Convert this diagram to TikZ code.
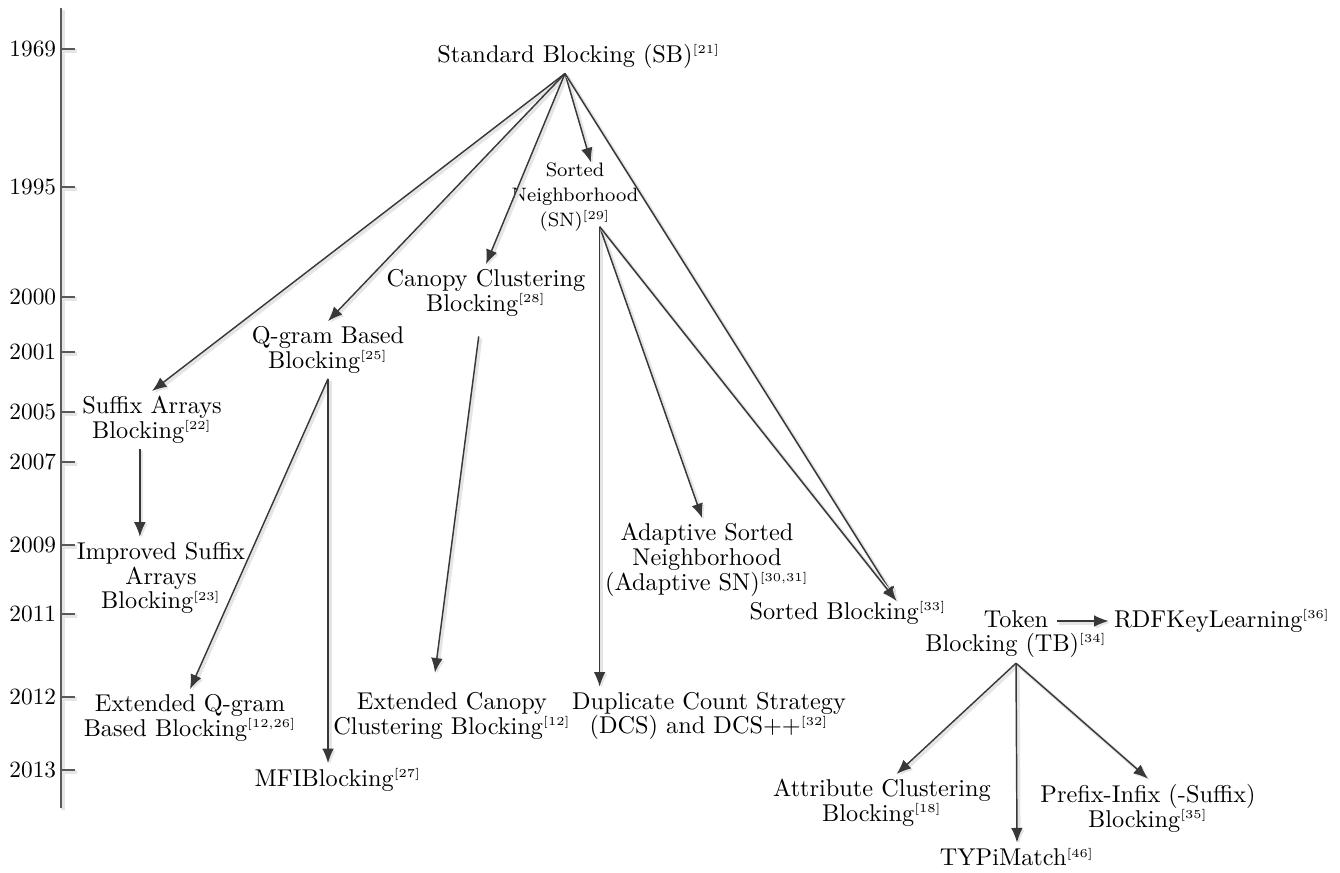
\documentclass[tikz,border=0pt]{standalone}
\usepackage{tikz}
\usetikzlibrary{arrows.meta}
\newcommand{\rf}[1]{\textsuperscript{\tiny[#1]}}
\tikzstyle{item} = [align=center, inner sep=2pt, font=\fontsize{10}{10.2}\selectfont]
\tikzstyle{smallitem} = [item, font=\fontsize{8}{10.2}\selectfont]
\tikzstyle{year} = [anchor=east, inner sep=1pt, font=\fontsize{9.6}{10}\selectfont]
\tikzstyle{link} = [->, draw=black!78, line width=0.6pt, preaction={draw=black!10, line width=1.4pt, transform canvas={shift={(0.8pt,-0.8pt)}}}]
\tikzstyle{axis} = [draw=black!65, line width=0.8pt, preaction={draw=black!10, line width=1.4pt, transform canvas={shift={(0.8pt,-0.8pt)}}}]

\begin{document}
\begin{tikzpicture}[x=0.01446cm, y=-0.01446cm, >={Latex[length=6pt,width=4.8pt]}]
    \useasboundingbox (0,0) rectangle (1340,873);
    % time line
    \draw [axis] (61,8) -- (61,808);
    \foreach \yr/\y in {1969/49, 1995/187, 2000/297, 2001/352, 2005/412, 2007/462, 2009/545, 2011/614, 2012/697, 2013/770} {
        \draw [axis] (61,\y) -- (75,\y);
        \node [year, name=y\yr] at (59,\y) {\yr};
    }
    % nodes
    \node [item, name=sb] at (565,56) {Standard Blocking (SB)\rlap{\rf{21}}};
    \node [item, name=sa] at (152,420) {Suffix Arrays\\Blocking\rf{22}};
    \node [item, name=imp] at (161,578) {Improved Suffix\\Arrays\\Blocking\rf{23}};
    \node [item, name=qg] at (328,350) {Q-gram Based\\Blocking\rf{25}};
    \node [item, name=cc] at (486,293) {Canopy Clustering\\Blocking\rf{28}};
    \node [smallitem, name=sn] at (575,197) {Sorted\\Neighborhood\\(SN)\rf{29}};
    \node [item, name=eqg] at (190,718) {Extended Q-gram\\Based Blocking\rf{12,26}};
    \node [item, name=mfi] at (338,780) {MFIBlocking\rf{27}};
    \node [item, name=ecc] at (452,716) {Extended Canopy\\Clustering Blocking\rf{12}};
    \node [item, name=dcs] at (709,716) {Duplicate Count Strategy\\(DCS) and DCS++\rf{32}};
    \node [item, name=asn] at (707,560) {Adaptive Sorted\\Neighborhood\\(Adaptive SN)\rf{30,31}};
    \node [item, name=sbk] at (848,613) {Sorted Blocking\rf{33}};
    \node [item, name=tb] at (1016,634) {Token\\Blocking (TB)\rf{34}};
    \node [item, name=rdf] at (1222,621) {RDFKeyLearning\rf{36}};
    \node [item, name=acb] at (882,803) {Attribute Clustering\\Blocking\rf{18}};
    \node [item, name=typ] at (1017,857) {TYPiMatch\rf{46}};
    \node [item, name=pib] at (1148,808) {Prefix-Infix (-Suffix)\\Blocking\rf{35}};
    % edges
    \draw [link] (sb.south) -- (sa.north);
    \draw [link] (sb.south) -- (qg.north);
    \draw [link] (sb.south) -- (cc.north);
    \draw [link] (sb.south) -- ([yshift=-2pt]sn.68);
    \draw [link] (sb.south) -- ([xshift=20pt,yshift=-2pt]sbk.north);
    \draw [link] ([yshift=4pt]sn.-58) -- (sn.-58 |- dcs.north);
    \draw [link] ([yshift=4pt]sn.-58) -- ([xshift=-2pt]asn.north);
    \draw [link] ([yshift=4pt]sn.-58) -- ([xshift=20pt,yshift=-2pt]sbk.north);
    \draw [link] ([xshift=-5pt]sa.south) -- ([xshift=-5pt]sa.south |- imp.north);
    \draw [link] (qg.south) -- (eqg.north);
    \draw [link] (qg.south) -- (qg.south |- mfi.north);
    \draw [link] ([xshift=-3pt,yshift=-6pt]cc.south) -- ([xshift=-7pt,yshift=6pt]ecc.north);
    \draw [link] ([xshift=17pt]tb.north |- rdf.west) -- (rdf.west);
    \draw [link] (tb.south) -- ([xshift=6pt]acb.north);
    \draw [link] (tb.south) -- (typ.north);
    \draw [link] (tb.south) -- (pib.north);
\end{tikzpicture}
\end{document}
